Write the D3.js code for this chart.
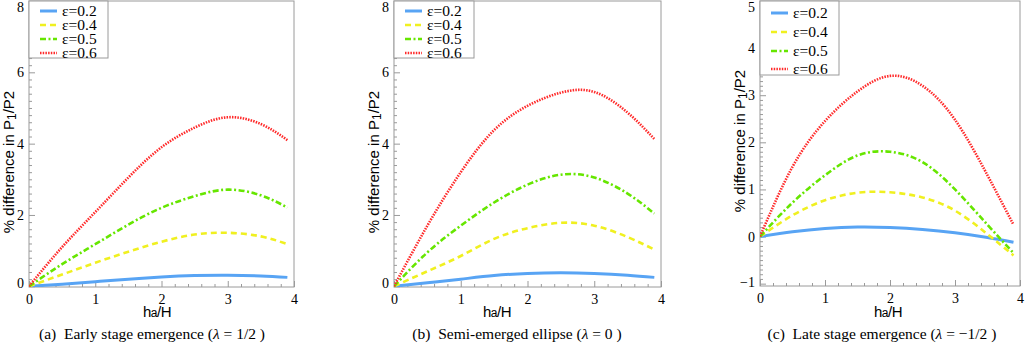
<!DOCTYPE html>
<html>
<head>
<meta charset="utf-8">
<script src="https://cdn.jsdelivr.net/npm/d3@7"></script>
<style>
    body { margin: 0; background: #fff; }
    svg { display: block; font-family: "Liberation Serif", "Times New Roman", serif; }
</style>
</head>
<body>
<svg id="chart" width="1025" height="345"></svg>
<script>
// DATA
// ----------------------------------------
const X_VALUES = [0, 0.5, 1, 1.5, 2, 2.5, 3, 3.5, 3.9];
const LEGEND_LABELS = ["ε=0.2", "ε=0.4", "ε=0.5", "ε=0.6"];
const X_TICKS = [0, 1, 2, 3, 4];

// (a) early stage emergence
const A_EPS02 = [0, 0.06, 0.13, 0.2, 0.26, 0.3, 0.31, 0.29, 0.25];
const A_EPS04 = [0, 0.33, 0.66, 0.97, 1.25, 1.45, 1.5, 1.4, 1.18];
const A_EPS05 = [0, 0.62, 1.18, 1.73, 2.2, 2.53, 2.71, 2.55, 2.21];
const A_EPS06 = [0, 1.1, 2.08, 3.05, 3.9, 4.45, 4.74, 4.55, 4.1];
const A_Y_TICKS = [0, 2, 4, 6, 8];

// (b) semi-emerged ellipse
const B_EPS02 = [0, 0.1, 0.2, 0.3, 0.36, 0.38, 0.36, 0.31, 0.25];
const B_EPS04 = [0, 0.42, 0.85, 1.33, 1.63, 1.78, 1.7, 1.38, 1.03];
const B_EPS05 = [0, 0.95, 1.7, 2.35, 2.85, 3.13, 3.05, 2.6, 2.04];
const B_EPS06 = [0, 1.7, 3.2, 4.38, 5.06, 5.43, 5.45, 4.87, 4.13];
const B_Y_TICKS = [0, 2, 4, 6, 8];

// (c) late stage emergence
const C_EPS02 = [0, 0.1, 0.17, 0.2, 0.19, 0.15, 0.08, -0.02, -0.12];
const C_EPS04 = [0, 0.45, 0.77, 0.93, 0.94, 0.83, 0.55, 0.05, -0.4];
const C_EPS05 = [0, 0.72, 1.3, 1.72, 1.8, 1.58, 1.0, 0.25, -0.35];
const C_EPS06 = [0, 1.48, 2.45, 3.08, 3.41, 3.2, 2.48, 1.3, 0.25];
const C_Y_TICKS = [-1, 0, 1, 2, 3, 4, 5];

const CAPTIONS = [
    ["(a)  Early stage emergence (", "λ", " = 1/2 )"],
    ["(b)  Semi-emerged ellipse (", "λ", " = 0 )"],
    ["(c)  Late stage emergence (", "λ", " = −1/2 )"]
];

// STYLES
// ----------------------------------------
const LINE_COLORS = ["#58a4f4", "#f0f020", "#66e600", "#ff2a2a"];
const LINE_DASHES = [null, "6,4", "6,2.5,2,2.5", "1.5,1.2"];
const FRAME_COLOR = "#9a9a9a";
const SANS = "'Liberation Sans', Arial, sans-serif";
const SERIF = "'Liberation Serif', 'Times New Roman', serif";

// PANEL LAYOUT
// ----------------------------------------
const PANELS = [
    { id: "a", series: [A_EPS02, A_EPS04, A_EPS05, A_EPS06], yTicks: A_Y_TICKS, yDomain: [-0.02, 8], minor: 0.2,
      left: 29, right: 294, top: 1, bottom: 287, titleX: 14, titleY: 162, xTitleX: 157, captionX: 152,
      legend: { w: 79, h: 57, rows: [10, 24, 38, 52] } },
    { id: "b", series: [B_EPS02, B_EPS04, B_EPS05, B_EPS06], yTicks: B_Y_TICKS, yDomain: [-0.02, 8], minor: 0.2,
      left: 394, right: 661, top: 1, bottom: 287, titleX: 379, titleY: 162, xTitleX: 497, captionX: 517,
      legend: { w: 80, h: 57, rows: [10, 24, 38, 52] } },
    { id: "c", series: [C_EPS02, C_EPS04, C_EPS05, C_EPS06], yTicks: C_Y_TICKS, yDomain: [-1.05, 5], minor: 0.1,
      left: 760, right: 1020, top: 1, bottom: 286, titleX: 745, titleY: 141, xTitleX: 888, captionX: 882,
      legend: { w: 79, h: 74, rows: [12, 31, 50, 68] } }
];

const svg = d3.select("#chart");

// MAIN
// ----------------------------------------
function drawPanel(p, i) {
    const g = svg.append("g").attr("class", "panel-" + p.id);

    const x = d3.scaleLinear().domain([0, 4]).range([p.left, p.right]);
    const y = d3.scaleLinear().domain(p.yDomain).range([p.bottom, p.top]);

    // minor ticks (inward)
    const yMinor = d3.range(Math.ceil(p.yDomain[0] / p.minor) * p.minor, p.yDomain[1] + 1e-6, p.minor)
        .filter(v => !p.yTicks.some(t => Math.abs(t - v) < 1e-6));
    const xMinor = d3.range(0, 4.0001, 0.2)
        .filter(v => !X_TICKS.some(t => Math.abs(t - v) < 1e-6));

    g.append("g")
        .attr("transform", `translate(${p.left},0)`)
        .call(d3.axisLeft(y).tickValues(yMinor).tickSize(-3).tickFormat(""))
        .call(a => a.select(".domain").remove());

    g.append("g")
        .attr("transform", `translate(0,${p.bottom})`)
        .call(d3.axisBottom(x).tickValues(xMinor).tickSize(-3).tickFormat(""))
        .call(a => a.select(".domain").remove());

    // major ticks + labels
    const yAxis = g.append("g")
        .attr("transform", `translate(${p.left},0)`)
        .call(d3.axisLeft(y).tickValues(p.yTicks).tickSize(-6).tickPadding(5)
            .tickFormat(d => d < 0 ? "−" + Math.abs(d) : String(d)))
        .call(a => a.select(".domain").remove());

    yAxis.selectAll(".tick text")
        .attr("y", d => {
            const ty = y(d);
            return Math.min(Math.max(ty, p.top + 6), p.bottom - 4) - ty;
        });

    g.append("g")
        .attr("transform", `translate(0,${p.bottom})`)
        .call(d3.axisBottom(x).tickValues(X_TICKS).tickSize(-6).tickPadding(7).tickFormat(d3.format("d")))
        .call(a => a.select(".domain").remove());

    g.selectAll(".tick line").attr("stroke", FRAME_COLOR);
    g.selectAll(".tick text")
        .attr("fill", "#000")
        .attr("font-family", SERIF)
        .style("font-family", SERIF)
        .style("font-size", "14px");

    // frame
    g.append("rect")
        .attr("x", p.left)
        .attr("y", p.top)
        .attr("width", p.right - p.left)
        .attr("height", p.bottom - p.top)
        .attr("fill", "none")
        .attr("stroke", FRAME_COLOR)
        .attr("stroke-width", 1);

    // curves
    const clipId = "clip-" + p.id;
    g.append("clipPath").attr("id", clipId)
        .append("rect")
        .attr("x", p.left)
        .attr("y", p.top)
        .attr("width", p.right - p.left)
        .attr("height", p.bottom - p.top);

    const line = d3.line()
        .x((d, j) => x(X_VALUES[j]))
        .y(d => y(d))
        .curve(d3.curveNatural);

    g.append("g")
        .attr("clip-path", `url(#${clipId})`)
        .selectAll("path")
        .data(p.series)
        .enter().append("path")
        .attr("d", line)
        .attr("fill", "none")
        .attr("stroke", (d, j) => LINE_COLORS[j])
        .attr("stroke-width", (d, j) => j === 0 ? 3 : 2.6)
        .attr("stroke-dasharray", (d, j) => LINE_DASHES[j]);

    // legend
    const lg = g.append("g").attr("transform", `translate(${p.left},${p.top})`);
    lg.append("rect")
        .attr("width", p.legend.w)
        .attr("height", p.legend.h)
        .attr("fill", "#fff")
        .attr("stroke", FRAME_COLOR);

    LEGEND_LABELS.forEach((label, j) => {
        const ry = p.legend.rows[j];
        lg.append("line")
            .attr("x1", 11).attr("x2", 28)
            .attr("y1", ry).attr("y2", ry)
            .attr("stroke", LINE_COLORS[j])
            .attr("stroke-width", j === 0 ? 3 : 2.6)
            .attr("stroke-dasharray", LINE_DASHES[j]);
        lg.append("text")
            .attr("x", 33)
            .attr("y", ry)
            .attr("dy", "0.35em")
            .style("font-family", SERIF)
            .style("font-size", "15.5px")
            .text(label);
    });

    // y title
    const yt = g.append("text")
        .attr("transform", `translate(${p.titleX},${p.titleY}) rotate(-90)`)
        .attr("text-anchor", "middle")
        .style("font-family", SANS)
        .style("font-size", "15px");
    yt.append("tspan").text("% difference in P");
    yt.append("tspan").attr("dy", 2).style("font-size", "12px").text("1");
    yt.append("tspan").attr("dy", -2).text("/P2");

    // x title
    const xt = g.append("text")
        .attr("x", p.xTitleX)
        .attr("y", 317)
        .attr("text-anchor", "middle")
        .style("font-family", SANS)
        .style("font-size", "15px")
        .style("letter-spacing", "-0.5px");
    xt.append("tspan").text("h");
    xt.append("tspan").style("font-size", "12px").text("a");
    xt.append("tspan").text("/H");

    // caption
    const cap = g.append("text")
        .attr("x", p.captionX)
        .attr("y", 339)
        .attr("text-anchor", "middle")
        .style("font-family", SERIF)
        .style("font-size", "15.5px")
        .attr("xml:space", "preserve");
    cap.append("tspan").text(CAPTIONS[i][0]);
    cap.append("tspan").style("font-style", "italic").text(CAPTIONS[i][1]);
    cap.append("tspan").text(CAPTIONS[i][2]);
}

PANELS.forEach(drawPanel);
</script>
</body>
</html>
